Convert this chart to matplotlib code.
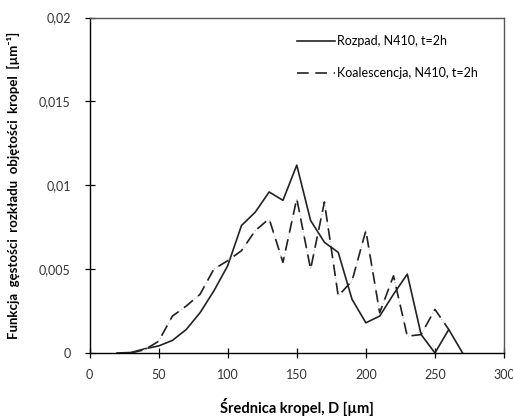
import matplotlib
matplotlib.use("Agg")
from matplotlib import pyplot as plt
from matplotlib.ticker import FuncFormatter

# dane
d_rozpad = [20, 30, 40, 50, 60, 70, 80, 90, 100, 110, 120, 130, 140,
            150, 160, 170, 180, 190, 200, 210, 220, 230, 240, 250, 260, 270]
f_rozpad = [0, 0.00003, 0.00025, 0.00042, 0.00075, 0.0014, 0.0024, 0.0037,
            0.0052, 0.0076, 0.0084, 0.0096, 0.0091, 0.0112, 0.0079, 0.0066,
            0.0060, 0.0032, 0.0018, 0.0022, 0.0035, 0.0047, 0.0011, 0.0,
            0.0014, 0.0]

d_koal = [30, 40, 50, 60, 70, 80, 90, 100, 110, 120, 130, 140,
          150, 160, 170, 180, 190, 200, 210, 220, 230, 240, 250, 260]
f_koal = [0, 0.0002, 0.0007, 0.0022, 0.0028, 0.0035, 0.0050, 0.0055,
          0.0061, 0.0073, 0.0080, 0.0054, 0.0092, 0.0050, 0.0090, 0.0034,
          0.0043, 0.0073, 0.0024, 0.0046, 0.0010, 0.0011, 0.0026, 0.0014]

x_ticks = [0, 50, 100, 150, 200, 250, 300]
y_ticks = [0, 0.005, 0.01, 0.015, 0.02]

fam = ['Lato', 'DejaVu Sans']
plt.rcParams['font.family'] = fam

fig = plt.figure(figsize=(5.13, 4.17), dpi=100)
ax = fig.add_axes([0.1745, 0.1535, 0.808, 0.8045])

ax.plot(d_rozpad, f_rozpad, color='#222222', lw=1.2, label='Rozpad, N410, t=2h')
# linia koalescencji: kreski czarne, przerwy jasnoszare kropki
ax.plot(d_koal, f_koal, color='#bbbbbb', lw=0.8, linestyle=(0, (1, 2)))
ax.plot(d_koal, f_koal, color='#222222', lw=1.2, linestyle=(0, (7, 4)),
        label='Koalescencja, N410, t=2h')

ax.set_xlim(0, 300)
ax.set_ylim(0, 0.02)
ax.set_xticks(x_ticks)
ax.set_yticks(y_ticks)

def fmt_y(v, pos):
    if v == 0:
        return '0'
    return ('%g' % v).replace('.', ',')

ax.yaxis.set_major_formatter(FuncFormatter(fmt_y))
ax.tick_params(direction='inout', length=7, width=0.9, labelsize=9,
               colors='black', labelcolor='#333333')
ax.tick_params(axis='y', pad=10)
ax.tick_params(axis='x', pad=8)

for s in ['left', 'bottom']:
    ax.spines[s].set_color('black')
    ax.spines[s].set_linewidth(1.0)
for s in ['top', 'right']:
    ax.spines[s].set_color('#555555')
    ax.spines[s].set_linewidth(1.0)

ax.set_xlabel('Średnica kropel, D [µm]', fontsize=10.5, fontweight='bold', labelpad=12)
ax.set_ylabel('Funkcja  gęstości  rozkładu  objętości  kropel  [µm⁻¹]', fontsize=9.5,
              fontweight='bold', labelpad=14)

leg = ax.legend(loc='upper right', frameon=False, fontsize=9, handlelength=3.0,
                handletextpad=0.2, labelspacing=1.6, borderaxespad=1.0,
                bbox_to_anchor=(0.98, 1.0))

fig.savefig('out.png', dpi=100)
